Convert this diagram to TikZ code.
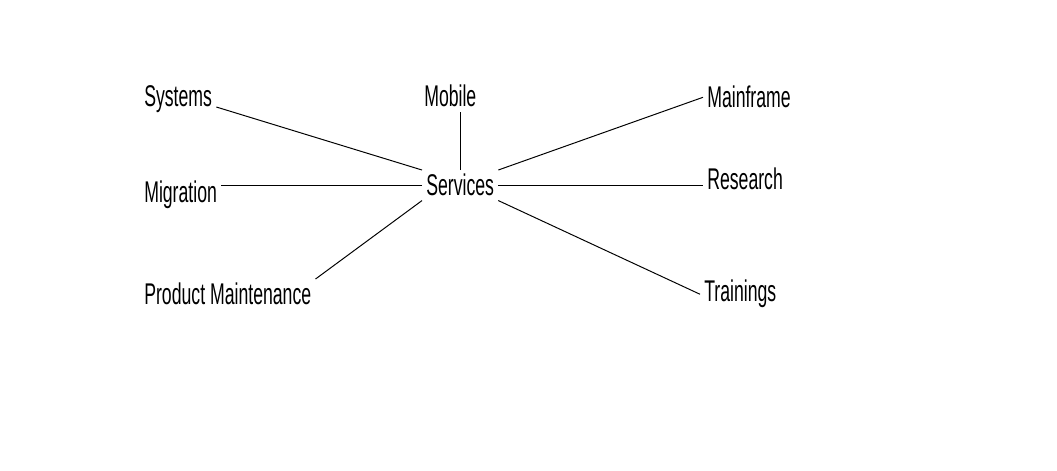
\documentclass[tikz,border=0pt]{standalone}
\usepackage{fontspec}
\setmainfont{Liberation Sans}[FakeStretch=0.59]
\usepackage{tikz}
\usetikzlibrary{positioning}

\begin{document}
\begin{tikzpicture}[
    %% Word label
    lbl/.style  = {inner sep=0.1cm, anchor=base west,
                   font=\fontsize{21.3}{25}\selectfont},
    %% Plain connector
    link/.style = {line width=0.7pt, color=black},
]
\useasboundingbox (0,0) rectangle (26.425,11.75);

%% ---- Hub ----
\node[lbl] (services) at (10.55, 6.85) {Services};

%% ---- Left column ----
\node[lbl] (systems)   at (3.5, 9.075) {Systems};
\node[lbl] (migration) at (3.5, 6.675) {Migration};
\node[lbl] (product)   at (3.5, 4.125) {Product Maintenance};

%% ---- Top ----
\node[lbl] (mobile)    at (10.5, 9.075) {Mobile};

%% ---- Right column ----
\node[lbl] (mainframe) at (17.575, 9.05) {Mainframe};
\node[lbl] (research)  at (17.575, 7.0)  {Research};
\node[lbl] (trainings) at (17.5, 4.2)    {Trainings};

%% hub -> words
\draw[link] (systems.base east) -- (services.north west);
\draw[link] (services.north) -- (services.north |- mobile.south);
\draw[link] (services.west) -- (services.west -| migration.east);
\draw[link] (product.north east) -- (services.south west);
\draw[link] (services.north east) -- (mainframe.west);
\draw[link] (services.east) -- (services.east -| research.west);
\draw[link] (services.south east) -- (trainings.west);

\end{tikzpicture}
\end{document}
